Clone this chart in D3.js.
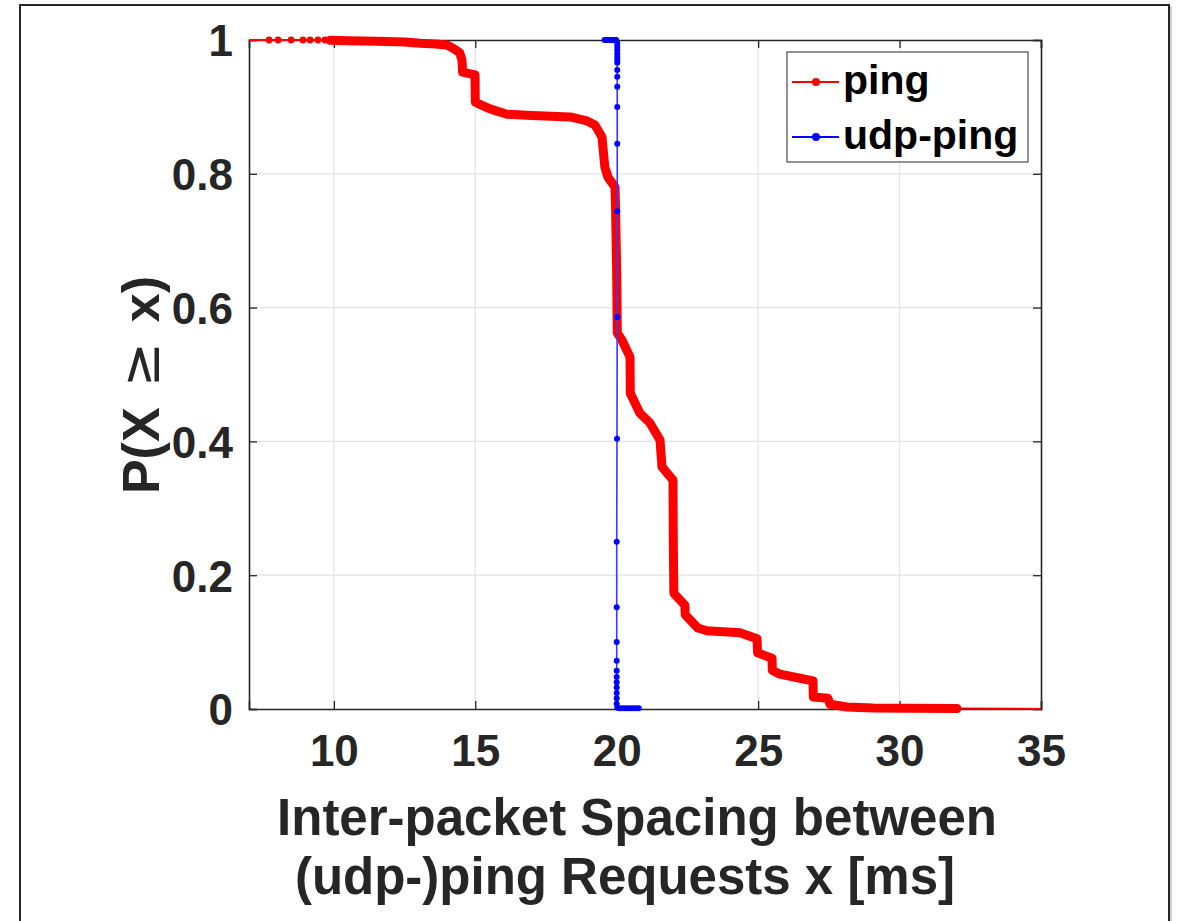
<!DOCTYPE html>
<html>
<head>
<meta charset="utf-8">
<script src="https://cdn.jsdelivr.net/npm/d3@7"></script>
<style>
  html, body { margin: 0; padding: 0; background: #fff; }
  svg { display: block; font-family: "Liberation Sans", Arial, Helvetica, sans-serif; }
</style>
</head>
<body>
<svg id="chart" width="1178" height="921"></svg>
<script>
// ---------- data ----------
const xTicks = [10, 15, 20, 25, 30, 35];
const yTicks = [0, 0.2, 0.4, 0.6, 0.8, 1];
const yTickLabels = ["0", "0.2", "0.4", "0.6", "0.8", "1"];
const seriesNames = ["ping", "udp-ping"];

// ping: complementary CDF P(X >= x)
const pingX = [6.5, 7.71, 8.03, 8.49, 8.91, 9.16, 9.44, 9.69, 9.87, 10.5, 11.5, 12.5, 13.05, 13.6, 14.0, 14.2,
  14.45, 14.53, 14.55, 14.99, 15.0, 15.2, 15.52, 16.12, 17.0, 18.35, 18.95, 19.23, 19.48, 19.58, 19.69, 19.94, 19.96,
  20.0, 20.02, 20.18, 20.47, 20.48, 20.82, 21.17, 21.53, 21.6, 21.99, 22.0, 22.02, 22.41, 22.42, 22.87, 23.19,
  24.36, 24.96, 24.98, 25.49, 25.5, 25.77, 26.48, 26.94, 26.95, 27.47, 27.54, 28.14, 29.06, 30.5, 32.03, 36];
const pingP = [1, 1, 1, 1, 1, 1, 1, 1, 0.9995, 0.999, 0.998, 0.997, 0.995, 0.994, 0.9925, 0.988,
  0.981, 0.97, 0.952, 0.948, 0.907, 0.903, 0.897, 0.889, 0.887, 0.885, 0.879, 0.873, 0.855, 0.81, 0.795, 0.78, 0.746,
  0.65, 0.562, 0.552, 0.526, 0.472, 0.442, 0.428, 0.402, 0.362, 0.342, 0.25, 0.173, 0.155, 0.141, 0.121, 0.117,
  0.114, 0.105, 0.084, 0.076, 0.058, 0.052, 0.046, 0.042, 0.018, 0.016, 0.007, 0.003, 0.0015, 0.001, 0.0007, 0];
// index range where ping samples are so dense they form a thick band
const pingDenseFrom = 8, pingDenseTo = 63;

// udp-ping
const udpX = [19.57, 19.64, 19.71, 19.78, 19.85, 19.92, 19.98,
  20.02, 20.02, 20.02, 20.02, 20.02, 20.02, 20.02, 20.02, 20.02, 20.02, 20.02, 20.02, 20.02, 20.02,
  20.01, 20.0, 20.0, 20.0, 20.0, 20.0, 20.0, 20.0, 20.0, 20.0, 20.0, 20.0,
  20.02, 20.1, 20.2, 20.3, 20.4, 20.5, 20.6, 20.7, 20.78];
const udpP = [1, 1, 1, 1, 1, 1, 1,
  0.995, 0.99, 0.985, 0.98, 0.975, 0.97, 0.966, 0.955, 0.945, 0.93, 0.9, 0.845, 0.744, 0.586,
  0.404, 0.25, 0.152, 0.1, 0.072, 0.057, 0.048, 0.04, 0.032, 0.024, 0.016, 0.008,
  0.002, 0.001, 0.001, 0.001, 0.001, 0.001, 0.001, 0.001, 0.001];

// ---------- drawing ----------
const svg = d3.select("#chart");
const L = 249, R = 1041, T = 40, B = 709;
const x = d3.scaleLinear().domain([7, 35]).range([L, R]);
const y = d3.scaleLinear().domain([0, 1]).range([B, T]);
const axisColor = "#262626";

// outer frame
svg.append("line").attr("x1", 1171).attr("x2", 1171).attr("y1", 6).attr("y2", 921)
  .attr("stroke", "#cfcfcf").attr("stroke-width", 2);
svg.append("rect").attr("x", 20).attr("y", 5).attr("width", 1149).attr("height", 1000)
  .attr("fill", "none").attr("stroke", axisColor).attr("stroke-width", 2);

// grid
const grid = svg.append("g");
grid.selectAll("line.gx").data(xTicks.filter(t => t > 7 && t < 35)).join("line")
  .attr("x1", d => x(d)).attr("x2", d => x(d)).attr("y1", T).attr("y2", B)
  .attr("stroke", "#e3e3e3").attr("stroke-width", 1.2);
grid.selectAll("line.gy").data(yTicks.filter(t => t > 0 && t < 1)).join("line")
  .attr("x1", L).attr("x2", R).attr("y1", d => y(d)).attr("y2", d => y(d))
  .attr("stroke", "#e3e3e3").attr("stroke-width", 1.2);

// axes
const fsTick = 44;
const gx = svg.append("g").attr("transform", `translate(0,${B})`)
  .call(d3.axisBottom(x).tickValues(xTicks).tickSize(-8).tickPadding(26).tickFormat(d3.format("d")));
const gxTop = svg.append("g").attr("transform", `translate(0,${T})`)
  .call(d3.axisTop(x).tickValues(xTicks).tickSize(-8).tickFormat(""));
const gy = svg.append("g").attr("transform", `translate(${L},0)`)
  .call(d3.axisLeft(y).tickValues(yTicks).tickSize(-8).tickPadding(16).tickFormat((d, i) => yTickLabels[i]));
const gyRight = svg.append("g").attr("transform", `translate(${R},0)`)
  .call(d3.axisRight(y).tickValues(yTicks).tickSize(-8).tickFormat(""));
[gx, gxTop, gy, gyRight].forEach(g => {
  g.select(".domain").attr("stroke", axisColor).attr("stroke-width", 1.6);
  g.selectAll(".tick line").attr("stroke", axisColor).attr("stroke-width", 1.3);
  g.selectAll(".tick text").attr("fill", axisColor).attr("font-size", fsTick)
    .attr("font-weight", "bold").attr("font-family", "Liberation Sans, Arial, sans-serif");
});
gx.selectAll(".tick text").attr("dy", "0.71em");
gy.selectAll(".tick text").attr("dy", "0.36em");

// axis labels
const fsLabel = 51;
const xl = svg.append("text").attr("text-anchor", "middle").attr("fill", axisColor)
  .attr("font-size", fsLabel).attr("font-weight", "bold");
xl.append("tspan").attr("x", 637).attr("y", 835).text("Inter-packet Spacing between");
xl.append("tspan").attr("x", 625).attr("y", 894).text("(udp-)ping Requests x [ms]");

const yl = svg.append("text").attr("text-anchor", "middle").attr("fill", axisColor)
  .attr("font-size", 52).attr("font-weight", "bold")
  .attr("transform", "translate(159,385) rotate(-90)");
yl.append("tspan").text("P(X");
yl.append("tspan").attr("dx", 20).attr("font-weight", "normal").attr("font-family", "DejaVu Sans")
  .attr("font-size", 54).text("≥");
yl.append("tspan").attr("dx", 20).text("x)");

// clip for data
svg.append("clipPath").attr("id", "plotclip").append("rect")
  .attr("x", L).attr("y", T - 6).attr("width", R - L).attr("height", B - T + 12);
const data = svg.append("g").attr("clip-path", "url(#plotclip)");

const pingPts = pingX.map((v, i) => [v, pingP[i]]);
const udpPts = udpX.map((v, i) => [v, udpP[i]]);
const line = d3.line().x(d => x(d[0])).y(d => y(d[1]));

// ping
data.append("path").attr("d", line(pingPts)).attr("fill", "none")
  .attr("stroke", "#ff0000").attr("stroke-width", 2);
data.append("path").attr("d", line(pingPts.slice(pingDenseFrom, pingDenseTo + 1))).attr("fill", "none")
  .attr("stroke", "#ff0000").attr("stroke-width", 9).attr("stroke-linejoin", "round").attr("stroke-linecap", "round");
data.selectAll("circle.ping").data(pingPts).join("circle").attr("class", "ping")
  .attr("cx", d => x(d[0])).attr("cy", d => y(d[1])).attr("r", 3.4).attr("fill", "#ff0000");

// udp-ping
data.append("path").attr("d", line(udpPts)).attr("fill", "none")
  .attr("stroke", "#3a3aff").attr("stroke-width", 1.6);
data.selectAll("circle.udp").data(udpPts).join("circle").attr("class", "udp")
  .attr("cx", d => x(d[0])).attr("cy", d => y(d[1])).attr("r", 3).attr("fill", "#0000ff");

// legend
const lg = svg.append("g");
lg.append("rect").attr("x", 787).attr("y", 52).attr("width", 241).attr("height", 110)
  .attr("fill", "#fff").attr("stroke", axisColor).attr("stroke-width", 1);
const colors = ["#ff0000", "#0000ff"];
const rowY = [82, 137];
seriesNames.forEach((n, i) => {
  lg.append("line").attr("x1", 792).attr("x2", 839).attr("y1", rowY[i]).attr("y2", rowY[i])
    .attr("stroke", colors[i]).attr("stroke-width", 2);
  lg.append("circle").attr("cx", 816).attr("cy", rowY[i]).attr("r", 4).attr("fill", colors[i]);
  lg.append("text").attr("x", 843).attr("y", rowY[i]).attr("dy", "0.3em")
    .attr("font-size", 41).attr("font-weight", "bold").attr("fill", "#000").text(n);
});
</script>
</body>
</html>
